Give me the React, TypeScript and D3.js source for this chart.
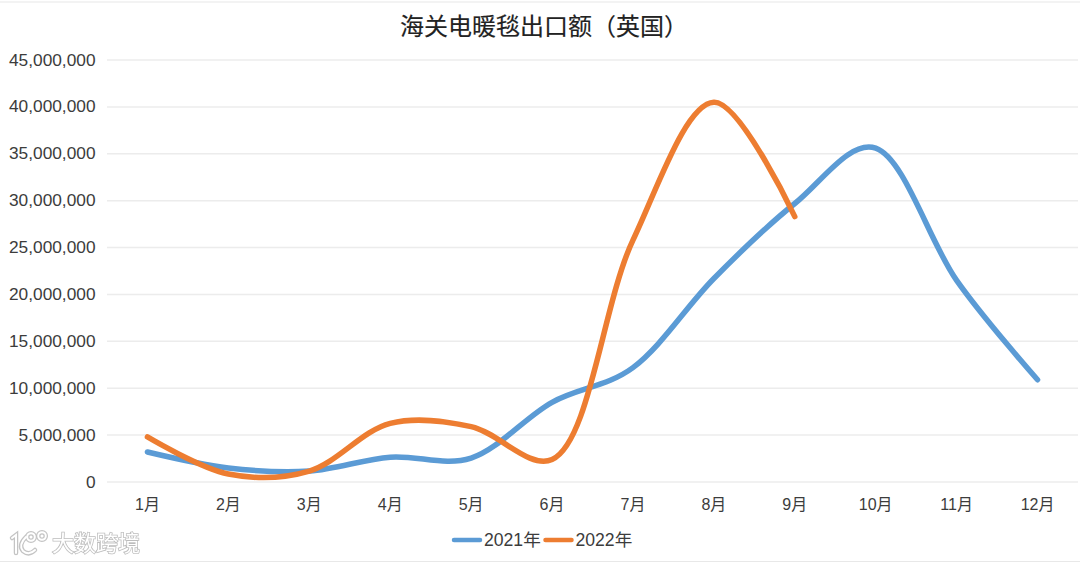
import React from "react";
import * as d3 from "d3";

const months = ["1月","2月","3月","4月","5月","6月","7月","8月","9月","10月","11月","12月"];
const values2021 = [3200000,1500000,1170000,2650000,2550000,8500000,12200000,21700000,29700000,35600000,21500000,10900000];
const values2022 = [4800000,850000,1170000,6250000,5900000,2400000,25800000,40500000,28300000];
const yTicks = [0,5000000,10000000,15000000,20000000,25000000,30000000,35000000,40000000,45000000];
const seriesNames = ["2021年","2022年"];
const seriesColors = ["#5b9bd5","#ed7d31"];
const titleText = "海关电暖毯出口额（英国）";
const watermark = "大数跨境";

const W = 1080, H = 563;
const FONT = "'Liberation Sans','Noto Sans CJK SC',sans-serif";

export default function App() {
  const x = d3.scaleBand<string>().domain(months).range([107, 1078]);
  const y = d3.scaleLinear().domain([0, 45000000]).range([482, 60]);
  const cx = (i: number) => (x(months[i]) as number) + x.bandwidth() / 2;
  const line = (alpha: number) => d3.line<number>().x((_, i) => cx(i)).y(d => y(d)).curve(d3.curveCatmullRom.alpha(alpha));
  const fmt = d3.format(",");
  const logoParts = (
    <>
      <path d="M12 538 L16 535 L16 553" />
      <path d="M26 537 Q18 545 23 551 Q29 556 35 550" />
      <circle cx={31} cy={537} r={3.8} />
      <circle cx={42} cy={536} r={3.8} />
    </>
  );
  return (
    <svg width={W} height={H} viewBox={`0 0 ${W} ${H}`}
      style={{ position: "fixed", left: 0, top: 0, background: "#fff", fontFamily: FONT }}>
      <defs>
        <filter id="soft" x="-5%" y="-20%" width="110%" height="140%">
          <feGaussianBlur stdDeviation="0.45" />
        </filter>
      </defs>
      <line x1={0} x2={W} y1={2} y2={2} stroke="#f3f3f3" strokeWidth={2} />
      <line x1={0} x2={W} y1={561.5} y2={561.5} stroke="#e8e8e8" strokeWidth={1} />
      <text x={544} y={34.5} textAnchor="middle" fontSize={24} fill="#222" stroke="#222" strokeWidth={0.15}>{titleText}</text>
      {yTicks.map(t => (
        <g key={t}>
          <line x1={107} x2={1078} y1={y(t)} y2={y(t)} stroke="#ececec" strokeWidth={1.5} />
          <text x={95.5} y={y(t) + 5.5} textAnchor="end" fontSize={17.3} fill="#3c3c3c">{fmt(t)}</text>
        </g>
      ))}
      {months.map((m, i) => (
        <text key={m} x={cx(i)} y={509.5} textAnchor="middle" fontSize={16} fill="#3c3c3c">{m}</text>
      ))}
      <path d={line(0.25)(values2021) as string} fill="none" stroke={seriesColors[0]} strokeWidth={5.5} strokeLinecap="round" strokeLinejoin="round" />
      <path d={line(0.5)(values2022) as string} fill="none" stroke={seriesColors[1]} strokeWidth={5.5} strokeLinecap="round" strokeLinejoin="round" />
      {seriesNames.map((n, i) => {
        const lx = 454 + i * 91.5;
        return (
          <g key={n}>
            <line x1={lx} x2={lx + 26} y1={540} y2={540} stroke={seriesColors[i]} strokeWidth={4.5} strokeLinecap="round" />
            <text x={lx + 30} y={546} fontSize={17.6} fill="#3c3c3c">{n}</text>
          </g>
        );
      })}
      <g filter="url(#soft)">
        <g fill="none" stroke="#c4c4c4" strokeWidth={4.5} strokeLinecap="round">{logoParts}</g>
        <g fill="none" stroke="#fff" strokeWidth={2} strokeLinecap="round">{logoParts}</g>
        <text x={52} y={551} fontSize={22} fill="#fff" stroke="#bdbdbd" strokeWidth={1.6} paintOrder="stroke">{watermark}</text>
      </g>
    </svg>
  );
}
